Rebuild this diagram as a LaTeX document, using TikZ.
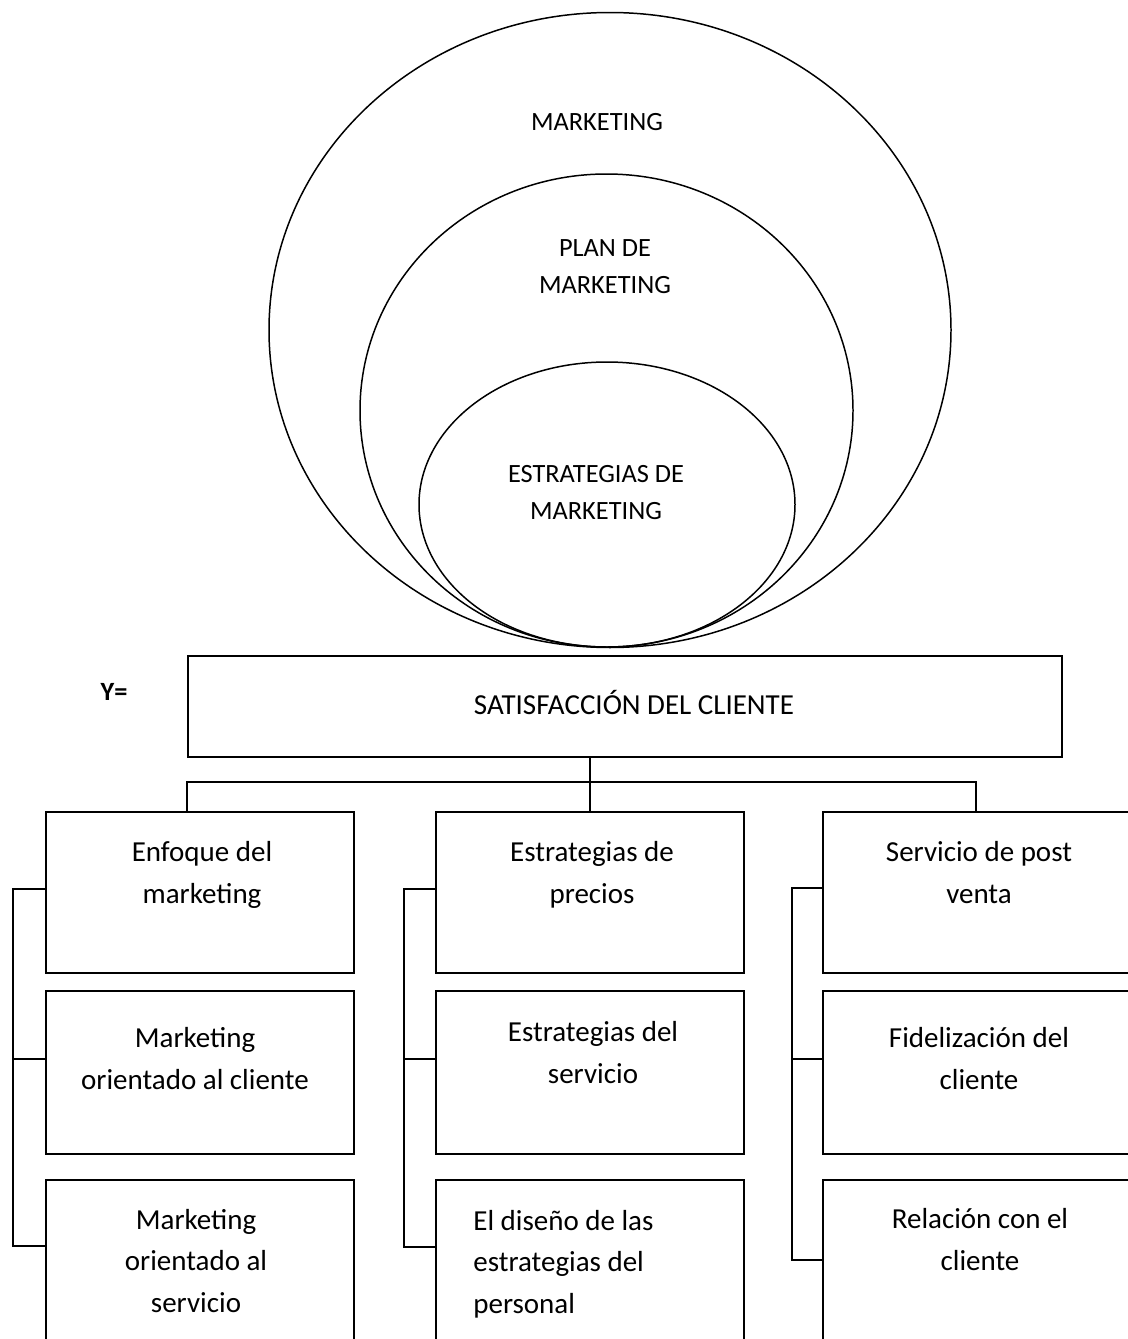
\documentclass[tikz,border=0pt]{standalone}
\usepackage{fontspec}
\setmainfont{Carlito}
\usetikzlibrary{shapes.geometric}
\newdimen\pxu \pxu=0.02cm
\begin{document}
\begin{tikzpicture}[x=0.02cm,y=-0.02cm,
  box/.style={draw, line width=1.1pt, rectangle, inner sep=0pt, minimum width=308\pxu},
  ring/.style={draw, ellipse, line width=0.85pt, inner sep=0pt},
  btxt/.style={align=center, anchor=base, inner sep=0pt, font=\fontsize{16.5}{23.5}\selectfont},
  etxt/.style={align=center, anchor=base, inner sep=0pt, font=\fontsize{15}{21}\selectfont},
  link/.style={line width=1.1pt}]
\useasboundingbox (0,0) rectangle (1128,1339);
\clip (0,0) rectangle (1128,1339);

% nested ellipses
\node[ring, minimum width=682\pxu, minimum height=635\pxu] (outer) at (610,330) {};
\node[ring, minimum width=493\pxu, minimum height=473\pxu] (middle) at (606.5,410.5) {};
\node[ring, minimum width=376\pxu, minimum height=285\pxu] (inner) at (607,504.5) {};
% (anchor base = baseline of last line)
\node[etxt] (tout) at (597,130) {MARKETING};
\node[etxt] (tmid) at (605,293) {PLAN DE\\MARKETING};
\node[etxt] (tin) at (596,519) {ESTRATEGIAS DE\\MARKETING};

% Y= and main box
\node[anchor=base, inner sep=0pt, font=\fontsize{15}{18}\selectfont\bfseries] (yeq) at (114,700) {Y=};
\node[box, minimum width=874\pxu, minimum height=101\pxu] (sat) at (625,706.5) {};
\node[btxt] (tsat) at (634,714) {SATISFACCIÓN DEL CLIENTE};

% boxes
\node[box, minimum height=161\pxu] (c1a) at (200,892.5) {};
\node[box, minimum height=163\pxu] (c1b) at (200,1072.5) {};
\node[box, minimum height=170\pxu] (c1c) at (200,1265) {};
\node[box, minimum height=161\pxu] (c2a) at (590,892.5) {};
\node[box, minimum height=163\pxu] (c2b) at (590,1072.5) {};
\node[box, minimum height=170\pxu] (c2c) at (590,1265) {};
\node[box, minimum height=161\pxu] (c3a) at (977,892.5) {};
\node[box, minimum height=163\pxu] (c3b) at (977,1072.5) {};
\node[box, minimum height=170\pxu] (c3c) at (977,1265) {};

% box texts
\node[btxt] (t1a) at (202,903) {Enfoque del\\marketing};
\node[btxt] (t1b) at (195,1089) {Marketing\\orientado al cliente};
\node[btxt] (t1c) at (196,1312) {Marketing\\orientado al\\servicio};
\node[btxt] (t2a) at (592,903) {Estrategias de\\precios};
\node[btxt] (t2b) at (593,1083) {Estrategias del\\servicio};
\node[btxt, align=left, anchor=base west] (t2c) at (473,1313) {El diseño de las\\estrategias del\\personal};
\node[btxt] (t3a) at (979,903) {Servicio de post\\venta};
\node[btxt] (t3b) at (979,1089) {Fidelización del\\cliente};
\node[btxt] (t3c) at (980,1270) {Relación con el\\cliente};

% top connectors
\coordinate (jL) at (187,782);
\coordinate (jM) at (590,782);
\coordinate (jR) at (976,782);
\draw[link] (sat.south -| jM) -- (jM |- c2a.north);
\draw[link] (jL |- c1a.north) -- (jL) -- (jR) -- (jR |- c3a.north);

% brackets column 1
\coordinate (k1a) at (13,889);
\coordinate (k1b) at (13,1059);
\coordinate (k1c) at (13,1246);
\draw[link] (k1a -| c1a.west) -- (k1a) -- (k1c) -- (k1c -| c1c.west);
\draw[link] (k1b) -- (k1b -| c1b.west);
% brackets column 2
\coordinate (k2a) at (404,889);
\coordinate (k2b) at (404,1059);
\coordinate (k2c) at (404,1247);
\draw[link] (k2a -| c2a.west) -- (k2a) -- (k2c) -- (k2c -| c2c.west);
\draw[link] (k2b) -- (k2b -| c2b.west);
% brackets column 3
\coordinate (k3a) at (792,888);
\coordinate (k3b) at (792,1059);
\coordinate (k3c) at (792,1260);
\draw[link] (k3a -| c3a.west) -- (k3a) -- (k3c) -- (k3c -| c3c.west);
\draw[link] (k3b) -- (k3b -| c3b.west);
\end{tikzpicture}
\end{document}
